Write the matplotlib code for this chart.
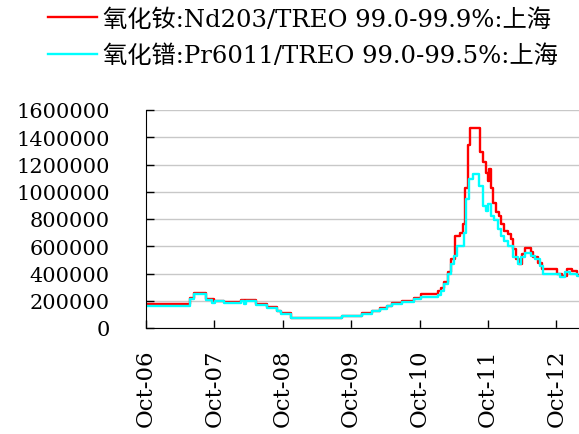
import numpy as np
import pandas as pd
import matplotlib
matplotlib.use('Agg')
import matplotlib.pyplot as plt
import matplotlib.dates as mdates

plt.rcParams['font.family'] = ['DejaVu Serif', 'Noto Sans CJK SC']

# Nd2O3 price, Shanghai
nd_dates = ['2006-10-01', '2007-05-22', '2007-06-12', '2007-08-20', '2007-10-01',
            '2007-11-23', '2008-02-21', '2008-05-11', '2008-07-08', '2008-08-30',
            '2008-09-20', '2008-11-12', '2009-08-14', '2009-11-28', '2010-01-20',
            '2010-03-03', '2010-04-09', '2010-05-05', '2010-06-27', '2010-09-04',
            '2010-10-11', '2011-01-09', '2011-01-25', '2011-02-10', '2011-03-03',
            '2011-03-19', '2011-04-09', '2011-05-06', '2011-05-22', '2011-06-01',
            '2011-06-17', '2011-06-28', '2011-08-20', '2011-09-04', '2011-09-20',
            '2011-10-01', '2011-10-06', '2011-10-17', '2011-10-27', '2011-11-12',
            '2011-11-28', '2011-12-09', '2011-12-25', '2012-01-15', '2012-01-31',
            '2012-02-10', '2012-02-26', '2012-03-13', '2012-03-29', '2012-04-19',
            '2012-05-16', '2012-05-31', '2012-06-27', '2012-07-18', '2012-10-05',
            '2012-11-01', '2012-11-27', '2012-12-24', '2013-01-19', '2013-01-31']
nd_vals = [175000, 220000, 255000, 213000, 200000,
           189000, 205000, 176000, 152000, 127000,
           110000, 75000, 90000, 108000, 127000,
           145000, 164000, 181000, 200000, 218000,
           250000, 270000, 290000, 335000, 410000,
           505000, 675000, 700000, 765000, 1030000,
           1340000, 1470000, 1290000, 1215000, 1140000,
           1080000, 1165000, 1030000, 920000, 850000,
           825000, 765000, 715000, 690000, 655000,
           580000, 505000, 470000, 545000, 585000,
           555000, 520000, 480000, 435000, 395000,
           385000, 430000, 420000, 390000, 390000]

# Pr6O11 price, Shanghai
pr_dates = ['2006-10-01', '2007-05-22', '2007-06-12', '2007-08-20', '2007-09-21',
            '2007-10-05', '2007-11-23', '2008-02-21', '2008-03-08', '2008-03-20',
            '2008-05-11', '2008-07-08', '2008-08-30', '2008-09-20', '2008-11-12',
            '2009-08-14', '2009-11-28', '2010-01-20', '2010-03-03', '2010-04-09',
            '2010-05-05', '2010-06-27', '2010-09-04', '2010-10-11', '2011-01-09',
            '2011-01-25', '2011-02-10', '2011-03-03', '2011-03-19', '2011-04-04',
            '2011-04-19', '2011-05-27', '2011-06-07', '2011-06-22', '2011-07-14',
            '2011-08-14', '2011-09-04', '2011-09-20', '2011-10-01', '2011-10-17',
            '2011-11-02', '2011-11-23', '2011-12-09', '2011-12-25', '2012-01-15',
            '2012-02-10', '2012-03-08', '2012-03-24', '2012-04-19', '2012-05-16',
            '2012-06-11', '2012-07-08', '2012-07-24', '2012-09-25', '2012-10-22',
            '2012-11-17', '2012-12-13', '2013-01-19', '2013-01-31']
pr_vals = [160000, 215000, 250000, 205000, 180000,
           200000, 185000, 200000, 175000, 200000,
           172000, 148000, 122000, 105000, 72000,
           85000, 105000, 125000, 143000, 160000,
           175000, 190000, 210000, 230000, 240000,
           275000, 320000, 400000, 470000, 530000,
           605000, 700000, 945000, 1095000, 1130000,
           1045000, 895000, 860000, 910000, 825000,
           790000, 725000, 675000, 640000, 605000,
           520000, 470000, 520000, 548000, 530000,
           505000, 455000, 400000, 395000, 372000,
           410000, 400000, 380000, 380000]

nd_label = '氧化钕:Nd203/TREO 99.0-99.9%:上海'
pr_label = '氧化镨:Pr6011/TREO 99.0-99.5%:上海'

fig = plt.figure(figsize=(5.79, 4.35), dpi=100)
ax = fig.add_axes([146/579, 1-329/435, 1-146/579, (329-111)/435])

ax.plot(pd.to_datetime(nd_dates), nd_vals, drawstyle='steps-post', c='#ff0000', lw=1.7, label=nd_label)
ax.plot(pd.to_datetime(pr_dates), pr_vals, drawstyle='steps-post', c='#00ffff', lw=1.7, label=pr_label)

ax.set_ylim(0, 1600000)
ax.set_yticks(np.arange(0, 1600001, 200000))
ax.yaxis.set_major_formatter(matplotlib.ticker.FuncFormatter(lambda v, p: f'{int(v)}'))
ax.set_xlim(pd.Timestamp('2006-10-01'), pd.Timestamp('2013-01-30'))
ax.set_xticks(pd.to_datetime([f'{y}-10-01' for y in range(2006, 2013)]))
ax.xaxis.set_major_formatter(mdates.DateFormatter('%b-%y'))
ax.tick_params(axis='both', direction='in', length=6, width=1, labelsize=15)
ax.tick_params(axis='x', rotation=90, pad=15, labelsize=16.5)
ax.tick_params(axis='y', pad=26)
ax.grid(axis='y', color='#c8c8c8', lw=1)
ax.set_axisbelow(True)
for s in ['top', 'right']:
    ax.spines[s].set_visible(False)

fig.legend(loc='upper left', bbox_to_anchor=(48/579, 1-9/435), frameon=False, fontsize=17.5,
           borderpad=0, borderaxespad=0,
           handlelength=2.0, handletextpad=0.25, labelspacing=0.55)

fig.savefig('out.png', dpi=100)
